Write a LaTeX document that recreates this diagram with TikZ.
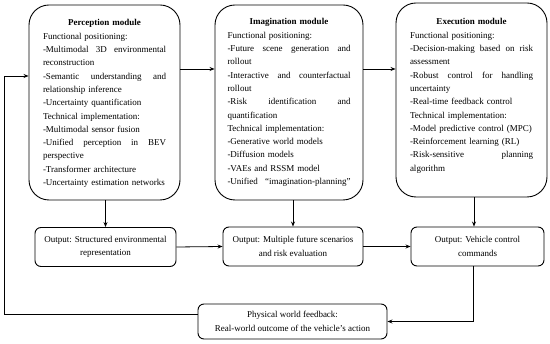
\documentclass[tikz,border=0pt]{standalone}
\usepackage{fontspec}
\setmainfont{Liberation Serif}
\usetikzlibrary{arrows.meta}
\newlength\modtw
\setlength\modtw{123pt}
\newcommand\CT[1]{\leavevmode\hbox to\modtw{\hfil\textbf{#1}\hfil}}
\newcommand\JA[2]{\leavevmode\hbox to\modtw{#1\hfill #2}}
\newcommand\JB[3]{\leavevmode\hbox to\modtw{#1\hfill #2\hfill #3}}
\newcommand\JC[4]{\leavevmode\hbox to\modtw{#1\hfill #2\hfill #3\hfill #4}}
\begin{document}
\begin{tikzpicture}[x=1pt,y=-1pt,
 modbox/.style={draw, line width=0.9pt, rounded corners=20pt, inner sep=0},
 outbox/.style={draw, line width=0.9pt, rounded corners=6pt, align=center, inner sep=0, font=\fontsize{9}{13.5}\selectfont},
 modtext/.style={anchor=north, inner sep=0, text width=\modtw, align=left, font=\fontsize{9}{13.3}\selectfont},
 arr/.style={line width=0.8pt, -{Stealth[length=5pt,width=4pt]}},
 ln/.style={line width=0.8pt}]
\useasboundingbox (0,0) rectangle (550,344);

% module boxes
\node[modbox, minimum width=151, minimum height=195] (per) at (104.5,102.5) {};
\node[modbox, minimum width=148, minimum height=195] (ima) at (289,102.5) {};
\node[modbox, minimum width=151, minimum height=194] (exe) at (471.5,100) {};

\node[modtext] (perT) at (104.5,19.5) {%
\CT{Perception module}\\
Functional positioning:\\
\JB{-Multimodal}{3D}{environmental}\\
reconstruction\\
\JB{-Semantic}{understanding}{and}\\
relationship inference\\
-Uncertainty quantification\\
Technical implementation:\\
-Multimodal sensor fusion\\
\JC{-Unified}{perception}{in}{BEV}\\
perspective\\
-Transformer architecture\\
-Uncertainty estimation networks};

\node[modtext] (imaT) at (289,18.5) {%
\CT{Imagination module}\\
Functional positioning:\\
\JC{-Future}{scene}{generation}{and}\\
rollout\\
\JB{-Interactive}{and}{counterfactual}\\
rollout\\
\JB{-Risk}{identification}{and}\\
quantification\\
Technical implementation:\\
-Generative world models\\
-Diffusion models\\
-VAEs and RSSM model\\
\JA{-Unified}{“imagination-planning”}};

\node[modtext] (exeT) at (471.5,18.5) {%
\CT{Execution module}\\
Functional positioning:\\
\leavevmode\hbox to\modtw{-Decision-making\hfill based\hfill on\hfill risk}\\
assessment\\
\JC{-Robust}{control}{for}{handling}\\
uncertainty\\
-Real-time feedback control\\
Technical implementation:\\
-Model predictive control (MPC)\\
-Reinforcement learning (RL)\\
\JA{-Risk-sensitive}{planning}\\
algorithm};

% output boxes
\node[outbox, minimum width=141, minimum height=39] (o1) at (105.5,247) {Output: Structured environmental\\representation};
\node[outbox, minimum width=140, minimum height=39] (o2) at (293,246.5) {Output: Multiple future scenarios\\and risk evaluation};
\node[outbox, minimum width=133, minimum height=39] (o3) at (477.5,246.5) {Output: Vehicle control\\commands};
\node[outbox, minimum width=189, minimum height=35, font=\fontsize{9}{13.3}\selectfont] (fb) at (292.5,321.5) {Physical world feedback:\\Real-world outcome of the vehicle’s action};

% helper coordinates
\coordinate (r1) at (0,69);
\coordinate (lc) at (4,76);

% connectors
\draw[arr] (per.east |- r1) -- (ima.west |- r1);
\draw[arr] (ima.east |- r1) -- (exe.west |- r1);
\draw[arr] (per.south -| o1.north) -- (o1.north);
\draw[arr] (ima.south -| o2.north) -- (o2.north);
\draw[arr] ([xshift=-3.5pt]exe.south -| o3.north) -- ([xshift=-3.5pt]o3.north);
\draw[arr] (o1.east) -- (o2.west);
\draw[arr] (o2.east) -- (o3.west);
\draw[arr] ([xshift=-4.5pt]o3.south) |- (fb.east);
\draw[arr] ([yshift=7.5pt]fb.west) -| (lc) -- (per.west |- lc);
\end{tikzpicture}
\end{document}
